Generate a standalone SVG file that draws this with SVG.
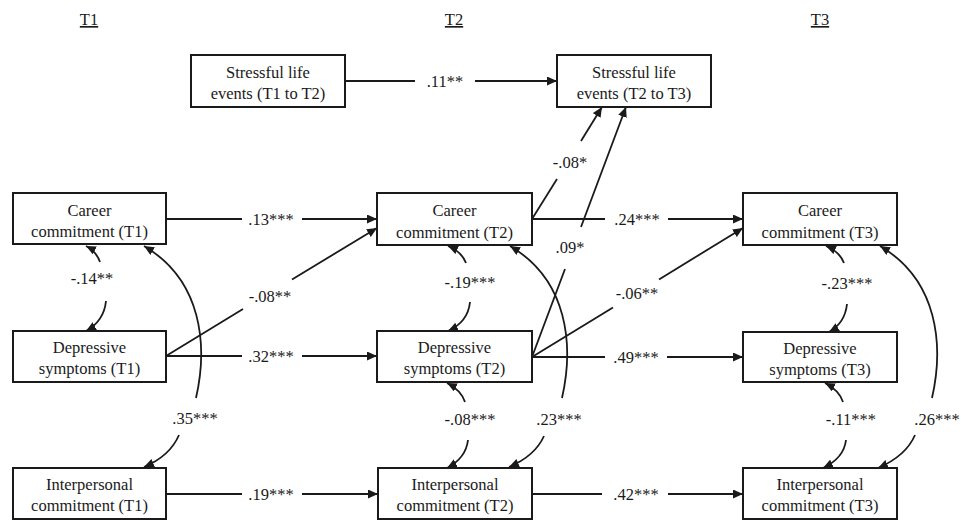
<svg xmlns="http://www.w3.org/2000/svg" width="961" height="521" viewBox="0 0 961 521">
<style>
text{font-family:'Liberation Serif','Times New Roman',serif;font-size:16.5px;fill:#1a1a1a;text-anchor:middle}
.box{fill:#fff;stroke:#1a1a1a;stroke-width:2}
.ln{fill:none;stroke:#1a1a1a;stroke-width:1.8}
.ar{marker-end:url(#ah)}
.hd{text-decoration:underline}
</style>
<defs>
<marker id="ah" markerUnits="userSpaceOnUse" markerWidth="11" markerHeight="9" refX="10" refY="4.5" orient="auto">
<path d="M0,0 L10,4.5 L0,9 Z" fill="#1a1a1a"/>
</marker>
</defs>
<rect width="961" height="521" fill="#fff"/>
<g id="headers">
<text class="hd" x="89" y="25">T1</text>
<text class="hd" x="454" y="25">T2</text>
<text class="hd" x="820" y="25">T3</text>
</g>
<g id="connectors">
<path class="ln" d="M345 81 H415"/><path class="ln ar" d="M475 81 H557"/>
<path class="ln" d="M166 219 H242"/><path class="ln ar" d="M302 219 H377"/>
<path class="ln" d="M166 356 H242"/><path class="ln ar" d="M302 356 H377"/>
<path class="ln" d="M166 494 H242"/><path class="ln ar" d="M302 494 H378"/>
<path class="ln" d="M532 219 H605"/><path class="ln ar" d="M668 219 H743"/>
<path class="ln" d="M532 357 H605"/><path class="ln ar" d="M667 357 H743"/>
<path class="ln" d="M532 494 H602"/><path class="ln ar" d="M668 494 H743"/>
<path class="ln" d="M166 356 L243 309"/><path class="ln ar" d="M292 279.5 L377 228"/>
<path class="ln" d="M532 357 L613 307.5"/><path class="ln ar" d="M659 279.4 L743 228"/>
<path class="ln" d="M532 219 L557 179"/><path class="ln ar" d="M581 141 L602 107"/>
<path class="ln" d="M532 357 L565 269"/><path class="ln ar" d="M581 227 L626 107"/>
<path class="ln ar" d="M100 262 Q96 251 86 246"/><path class="ln ar" d="M106 301 Q104 321 86 331"/>
<path class="ln ar" d="M466 263 Q462 252 448 246"/><path class="ln ar" d="M470 302 Q468 322 448 331"/>
<path class="ln ar" d="M844 263 Q840 252 826 246"/><path class="ln ar" d="M847 304 Q845 323 829 332"/>
<path class="ln ar" d="M465 402 Q461 390 447 383"/><path class="ln ar" d="M468 440 Q466 458 447 468"/>
<path class="ln ar" d="M843 402 Q839 390 825 383"/><path class="ln ar" d="M846 440 Q844 458 823 468"/>
<path class="ln ar" d="M196 398 C208 345 202 280 144 246"/><path class="ln ar" d="M179 435 Q170 456 144 467"/>
<path class="ln ar" d="M562 398 C574 345 568 280 510 246"/><path class="ln ar" d="M544 436 Q535 456 509 467"/>
<path class="ln ar" d="M932 398 C944 345 938 280 880 246"/><path class="ln ar" d="M915 435 Q906 456 878 468"/>
</g>
<g id="labels">
<text x="445" y="86.5">.11**</text>
<text x="271" y="224.5">.13***</text>
<text x="271" y="361.5">.32***</text>
<text x="271" y="499.5">.19***</text>
<text x="270" y="301.5">-.08**</text>
<text x="637" y="224.5">.24***</text>
<text x="636" y="362.5">.49***</text>
<text x="636" y="499.5">.42***</text>
<text x="637" y="298.5">-.06**</text>
<text x="570" y="167.5">-.08*</text>
<text x="570" y="252.5">.09*</text>
<text x="92" y="283.5">-.14**</text>
<text x="470" y="287.5">-.19***</text>
<text x="847" y="288.5">-.23***</text>
<text x="195" y="423.5">.35***</text>
<text x="470" y="425">-.08***</text>
<text x="559" y="424.5">.23***</text>
<text x="851" y="424.5">-.11***</text>
<text x="937" y="424.5">.26***</text>
</g>
<g id="s1"><rect class="box" x="191" y="55" width="154" height="52"/><text x="268" y="77.5">Stressful life</text><text x="268" y="99">events (T1 to T2)</text></g>
<g id="s2"><rect class="box" x="557" y="55" width="154" height="52"/><text x="634" y="77.5">Stressful life</text><text x="634" y="99">events (T2 to T3)</text></g>
<g id="c1"><rect class="box" x="13" y="193" width="153" height="51"/><text x="89.5" y="216">Career</text><text x="89.5" y="237">commitment (T1)</text></g>
<g id="c2"><rect class="box" x="377" y="193" width="155" height="52"/><text x="454.5" y="216">Career</text><text x="454.5" y="237.5">commitment (T2)</text></g>
<g id="c3"><rect class="box" x="743" y="193" width="154" height="52"/><text x="820" y="216">Career</text><text x="820" y="237.5">commitment (T3)</text></g>
<g id="d1"><rect class="box" x="13" y="331" width="153" height="51"/><text x="89.5" y="353">Depressive</text><text x="89.5" y="374">symptoms (T1)</text></g>
<g id="d2"><rect class="box" x="377" y="331" width="155" height="51"/><text x="454.5" y="353">Depressive</text><text x="454.5" y="374">symptoms (T2)</text></g>
<g id="d3"><rect class="box" x="743" y="332" width="154" height="50"/><text x="820" y="353.5">Depressive</text><text x="820" y="374.5">symptoms (T3)</text></g>
<g id="i1"><rect class="box" x="13" y="468" width="153" height="51"/><text x="89.5" y="490">Interpersonal</text><text x="89.5" y="511">commitment (T1)</text></g>
<g id="i2"><rect class="box" x="378" y="468" width="154" height="51"/><text x="455" y="490">Interpersonal</text><text x="455" y="511">commitment (T2)</text></g>
<g id="i3"><rect class="box" x="743" y="468" width="154" height="51"/><text x="820" y="490">Interpersonal</text><text x="820" y="511">commitment (T3)</text></g>
</svg>
